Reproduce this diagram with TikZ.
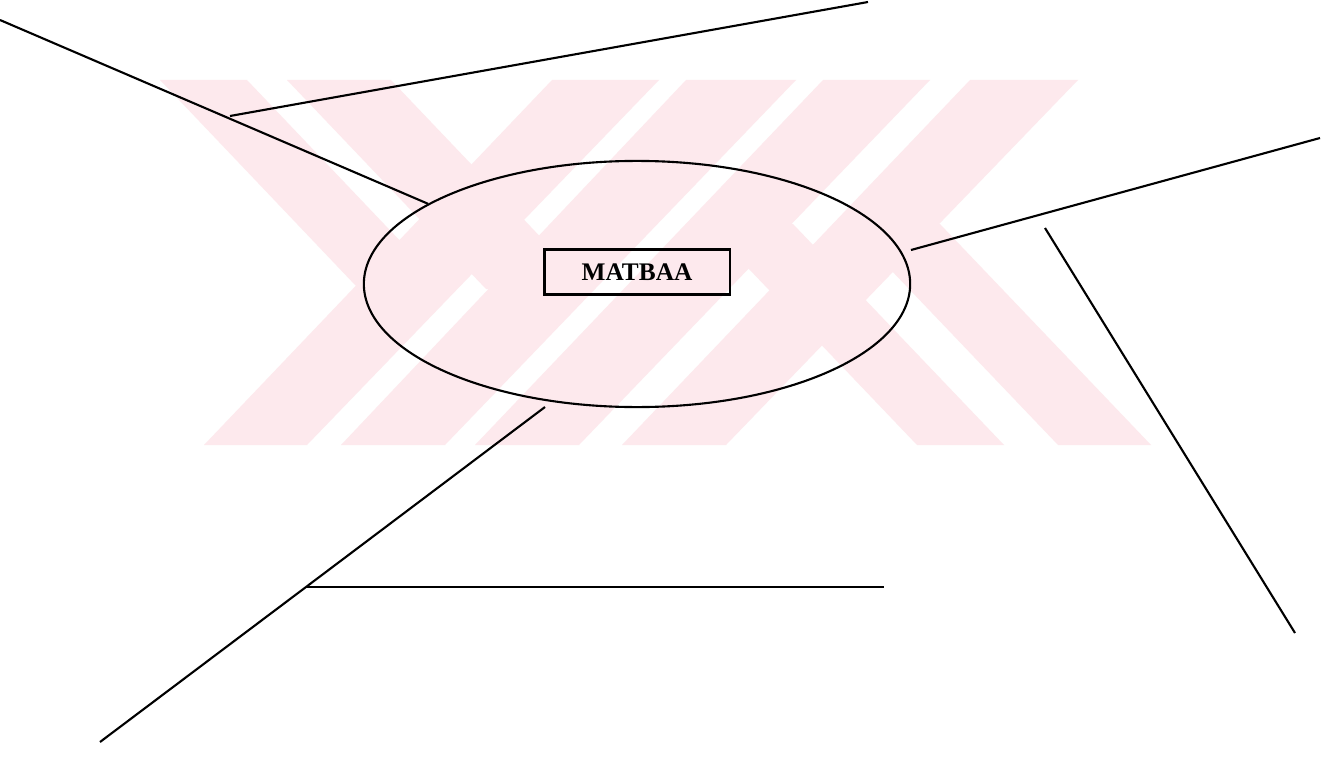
\documentclass[tikz,border=0pt]{standalone}
\usepackage{fontspec}
\setmainfont{Liberation Serif}
\usetikzlibrary{shapes.geometric}
\definecolor{wmpink}{RGB}{253,233,237}

\begin{document}
\begin{tikzpicture}[x=0.01cm, y=-0.01cm, line width=0.6pt]
  \useasboundingbox (0,0) rectangle (1340,770);
  \fill[white] (0,0) rectangle (1340,770);

  % Watermark stripes
  \fill[wmpink] (552,80) -- (659,80) -- (307,445) -- (204,445) -- cycle;
  \fill[wmpink] (686,80) -- (796,80) -- (445,445) -- (341,445) -- cycle;
  \fill[wmpink] (823,80) -- (930,80) -- (579,445) -- (475,445) -- cycle;
  \fill[wmpink] (970,80) -- (1078,80) -- (726,445) -- (622,445) -- cycle;
  \fill[wmpink] (160,80) -- (247,80) -- (443,286) -- (356,286) -- cycle;
  \fill[wmpink] (287,80) -- (391,80) -- (590,289) -- (486,289) -- cycle;
  \fill[wmpink] (706,224) -- (793,224) -- (1004,445) -- (917,445) -- cycle;
  \fill[wmpink] (847,224) -- (940,224) -- (1151,445) -- (1058,445) -- cycle;

  % Ellipse and box
  \node[draw, ellipse, minimum width=5.46cm, minimum height=2.46cm] (press) at (637,284) {};
  \node[draw, minimum width=1.85cm, minimum height=0.45cm, inner sep=0pt,
        font=\fontsize{7.2}{8}\selectfont\bfseries] (matbaa) at (637,272) {MATBAA};

  % Coordinates
  \coordinate (tl0) at (0,20);
  \coordinate (t0) at (230,116);
  \coordinate (t1) at (868,2);
  \coordinate (r0) at (911,250);
  \coordinate (r1) at (1320,138);
  \coordinate (s0) at (1045,228);
  \coordinate (s1) at (1295,633);
  \coordinate (b0) at (545,407);
  \coordinate (bj) at (306,587);
  \coordinate (b1) at (100,742);
  \coordinate (h1) at (884,587);

  % Branch lines
  \draw (tl0) -- (press.159);
  \draw (t0) -- (t1);
  \draw (r0) -- (r1);
  \draw (s0) -- (s1);
  \draw (b0) -- (bj) -- (b1);
  \draw (bj) -- (h1);
\end{tikzpicture}
\end{document}
